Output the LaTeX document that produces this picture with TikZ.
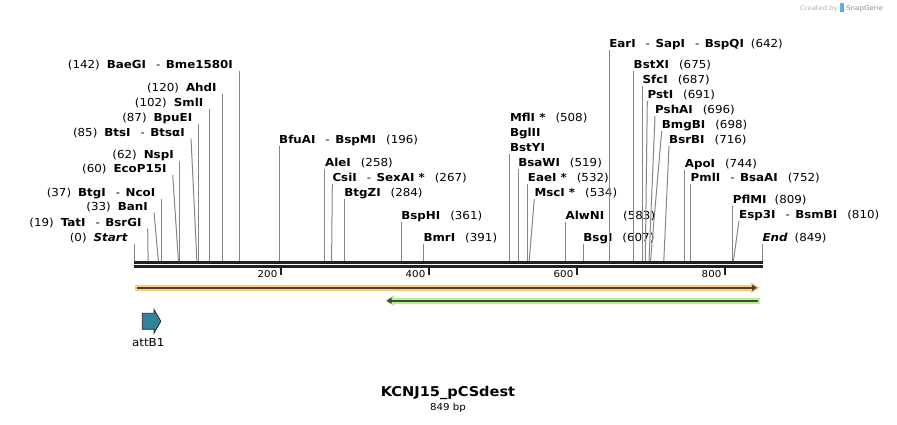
\documentclass[tikz,border=0pt]{standalone}
\usepackage{fontspec}
\setmainfont{DejaVu Sans}[FakeStretch=1.08]
\usepackage{xcolor}
\usepackage{tikz}
\usetikzlibrary{arrows.meta}

\definecolor{rulerblack}{HTML}{222222}
\definecolor{sitegray}{HTML}{858585}
\definecolor{orangeband}{HTML}{FBCB7B}
\definecolor{greenband}{HTML}{B6F08C}
\definecolor{orangeline}{HTML}{4D4332}
\definecolor{greenline}{HTML}{3F4B37}
\definecolor{attteal}{HTML}{31829A}
\definecolor{snapblue}{HTML}{5AB0E6}
\newcommand{\sepr}{\hspace{10pt}-\hspace{5.5pt}}
\newcommand{\rnum}[1]{\hspace{10pt}(#1)}
\newcommand{\lnum}[1]{(#1)\hspace{7pt}}

\begin{document}
\begin{tikzpicture}[x=1pt,y=-1pt,
  lbl/.style={inner sep=0pt,font=\fontsize{11}{13}\selectfont},
  llab/.style={lbl,anchor=base east},
  rlab/.style={lbl,anchor=base west},
  site/.style={sitegray,line width=1pt},
  tick/.style={rulerblack,line width=2pt},
  ticklab/.style={inner sep=0pt,anchor=base east,font=\fontsize{9.5}{11}\selectfont}]
\useasboundingbox (0,0) rectangle (897,424);

\node[inner sep=0pt,anchor=base west,text=black!30,font=\fontsize{6.3}{7}\selectfont] (credit) at (800,10) {Created by\hspace{2pt}\textcolor{snapblue}{\rule[-1.5pt]{4.5pt}{9pt}}\hspace{2pt}\textcolor{black!45}{\fontsize{6.6}{7}\selectfont SnapGene}};

\coordinate (rulerl) at (133.5,262.5);
\coordinate (rulerr) at (762.8,262.5);
\draw[rulerblack,line width=3pt] (rulerl) -- (rulerr);
\draw[rulerblack,line width=2.3pt] ([yshift=-3.9pt]rulerl) -- ([yshift=-3.9pt]rulerr);

\draw[tick] (281,267) -- (281,275);
\draw[tick] (429,267) -- (429,275);
\draw[tick] (577,267) -- (577,275);
\draw[tick] (725,267) -- (725,275);
\node[ticklab] (t200) at (277.5,277.5) {200};
\node[ticklab] (t400) at (425.5,277.5) {400};
\node[ticklab] (t600) at (573.5,277.5) {600};
\node[ticklab] (t800) at (721.5,277.5) {800};

\coordinate (s0) at (134,261);
\coordinate (s19) at (148.1,261);
\coordinate (s33) at (158.4,261);
\coordinate (s37) at (161.4,261);
\coordinate (s60) at (178.4,261);
\coordinate (s62) at (179.9,261);
\coordinate (s85) at (196.9,261);
\coordinate (s87) at (198.4,261);
\coordinate (s102) at (209.5,261);
\coordinate (s120) at (222.8,261);
\coordinate (s142) at (239.1,261);

\node[llab] (start) at (128,241) {\lnum{0}\textbf{\textit{Start}}};
\node[llab] (tati) at (141.7,226) {\lnum{19}\textbf{TatI}\sepr\textbf{BsrGI}};
\node[llab] (bani) at (148,210) {\lnum{33}\textbf{BanI}};
\node[llab] (btgi) at (155.4,196) {\lnum{37}\textbf{BtgI}\sepr\textbf{NcoI}};
\node[llab] (ecop) at (166.7,172.5) {\lnum{60}\textbf{EcoP15I}};
\node[llab] (nspi) at (173.9,158) {\lnum{62}\textbf{NspI}};
\node[llab] (btsi) at (185,136) {\lnum{85}\textbf{BtsI}\sepr\textbf{BtsαI}};
\node[llab] (bpuei) at (192.4,121) {\lnum{87}\textbf{BpuEI}};
\node[llab] (smli) at (203.5,106) {\lnum{102}\textbf{SmlI}};
\node[llab] (ahdi) at (216.8,91) {\lnum{120}\textbf{AhdI}};
\node[llab] (baegi) at (233.1,68) {\lnum{142}\textbf{BaeGI}\sepr\textbf{Bme1580I}};

\draw[site] (s0) -- ([xshift=6pt,yshift=-2.5pt]start.base east);
\draw[site] (s19) -- ([xshift=6pt,yshift=-2.5pt]tati.base east);
\draw[site] (s33) -- ([xshift=6pt,yshift=-2.5pt]bani.base east);
\draw[site] (s37) -- ([xshift=6pt,yshift=-2.5pt]btgi.base east);
\draw[site] (s60) -- ([xshift=6pt,yshift=-2.5pt]ecop.base east);
\draw[site] (s62) -- ([xshift=6pt,yshift=-2.5pt]nspi.base east);
\draw[site] (s85) -- ([xshift=6pt,yshift=-2.5pt]btsi.base east);
\draw[site] (s87) -- ([xshift=6pt,yshift=-2.5pt]bpuei.base east);
\draw[site] (s102) -- ([xshift=6pt,yshift=-2.5pt]smli.base east);
\draw[site] (s120) -- ([xshift=6pt,yshift=-2.5pt]ahdi.base east);
\draw[site] (s142) -- ([xshift=6pt,yshift=-2.5pt]baegi.base east);

\coordinate (s196) at (279,261);
\coordinate (s258) at (324.9,261);
\coordinate (s267) at (331.6,261);
\coordinate (s284) at (344.2,261);
\coordinate (s361) at (401.1,261);
\coordinate (s391) at (423.3,261);
\coordinate (s508) at (509.9,261);
\coordinate (s519) at (518.1,261);
\coordinate (s532) at (527.7,261);
\coordinate (s534) at (529.2,261);
\coordinate (s583) at (565.4,261);
\coordinate (s607) at (583.2,261);

\node[rlab] (bfuai) at (279,143.5) {\textbf{BfuAI}\sepr\textbf{BspMI}\rnum{196}};
\node[rlab] (alei) at (324.9,166) {\textbf{AleI}\rnum{258}};
\node[rlab] (csii) at (332.3,181.5) {\textbf{CsiI}\sepr\textbf{SexAI *}\rnum{267}};
\node[rlab] (btgzi) at (344.2,196.5) {\textbf{BtgZI}\rnum{284}};
\node[rlab] (bsphi) at (401.1,219) {\textbf{BspHI}\rnum{361}};
\node[rlab] (bmri) at (423.3,241) {\textbf{BmrI}\rnum{391}};
\node[rlab] (bstyi) at (509.9,151) {\textbf{BstYI}};
\node[rlab] (bglii) at ([yshift=15pt]bstyi.base west) {\textbf{BglII}};
\node[rlab] (mfli) at ([yshift=15pt]bglii.base west) {\textbf{MflI *}\rnum{508}};
\node[rlab] (bsawi) at (518.1,166) {\textbf{BsaWI}\rnum{519}};
\node[rlab] (eaei) at (527.7,181.5) {\textbf{EaeI *}\rnum{532}};
\node[rlab] (msci) at (534.3,196.5) {\textbf{MscI *}\rnum{534}};
\node[rlab] (alwni) at (565.4,219) {\textbf{AlwNI}\hspace{19pt}(583)};
\node[rlab] (bsgi) at (583.2,241) {\textbf{BsgI}\rnum{607}};

\draw[site] (s196) -- ([yshift=-2.5pt]bfuai.base west);
\draw[site] (s258) -- ([yshift=-2.5pt]alei.base west);
\draw[site] (s267) -- ([yshift=-2.5pt]csii.base west);
\draw[site] (s284) -- ([yshift=-2.5pt]btgzi.base west);
\draw[site] (s361) -- ([yshift=-2.5pt]bsphi.base west);
\draw[site] (s391) -- ([yshift=-2.5pt]bmri.base west);
\draw[site] (s508) -- ([yshift=-2.5pt]bstyi.base west);
\draw[site] (s519) -- ([yshift=-2.5pt]bsawi.base west);
\draw[site] (s532) -- ([yshift=-2.5pt]eaei.base west);
\draw[site] (s534) -- ([yshift=-2.5pt]msci.base west);
\draw[site] (s583) -- ([yshift=-2.5pt]alwni.base west);
\draw[site] (s607) -- ([yshift=-2.5pt]bsgi.base west);

\coordinate (s642) at (609.1,261);
\coordinate (s675) at (633.5,261);
\coordinate (s687) at (642.4,261);
\coordinate (s691) at (645.3,261);
\coordinate (s696) at (649,261);
\coordinate (s698) at (650.5,261);
\coordinate (s716) at (663.8,261);
\coordinate (s744) at (684.6,261);
\coordinate (s752) at (690.5,261);
\coordinate (s809) at (732.7,261);
\coordinate (s810) at (733.4,261);
\coordinate (s849) at (762.3,261);

\node[rlab] (eari) at (609.1,47.5) {\textbf{EarI}\sepr\textbf{SapI}\sepr\textbf{BspQI}\hspace{7pt}(642)};
\node[rlab] (bstxi) at (633.5,68) {\textbf{BstXI}\rnum{675}};
\node[rlab] (sfci) at (642.4,83.5) {\textbf{SfcI}\rnum{687}};
\node[rlab] (psti) at (647.3,98.5) {\textbf{PstI}\rnum{691}};
\node[rlab] (pshai) at (655,113.5) {\textbf{PshAI}\rnum{696}};
\node[rlab] (bmgbi) at (661.7,128.5) {\textbf{BmgBI}\rnum{698}};
\node[rlab] (bsrbi) at (669,143.5) {\textbf{BsrBI}\rnum{716}};
\node[rlab] (apoi) at (684.6,167) {\textbf{ApoI}\rnum{744}};
\node[rlab] (pmli) at (690.5,181) {\textbf{PmlI}\sepr\textbf{BsaAI}\rnum{752}};
\node[rlab] (pflmi) at (732.7,203.5) {\textbf{PflMI}\hspace{8pt}(809)};
\node[rlab] (esp) at (739,218.5) {\textbf{Esp3I}\sepr\textbf{BsmBI}\rnum{810}};
\node[rlab] (endl) at (762.3,241.5) {\textbf{\textit{End}}\hspace{7pt}(849)};

\draw[site] (s642) -- ([yshift=-2.5pt]eari.base west);
\draw[site] (s675) -- ([yshift=-2.5pt]bstxi.base west);
\draw[site] (s687) -- ([yshift=-2.5pt]sfci.base west);
\draw[site] (s691) -- ([yshift=-2.5pt]psti.base west);
\draw[site] (s696) -- ([yshift=-2.5pt]pshai.base west);
\draw[site] (s698) -- ([yshift=-2.5pt]bmgbi.base west);
\draw[site] (s716) -- ([yshift=-2.5pt]bsrbi.base west);
\draw[site] (s744) -- ([yshift=-2.5pt]apoi.base west);
\draw[site] (s752) -- ([yshift=-2.5pt]pmli.base west);
\draw[site] (s809) -- ([yshift=-2.5pt]pflmi.base west);
\draw[site] (s810) -- ([yshift=-2.5pt]esp.base west);
\draw[site] (s849) -- ([yshift=-2.5pt]endl.base west);

\fill[orangeband] (135,284.5) rectangle (752,291);
\fill[orangeband] (751,282.3) -- (760,287.8) -- (751,293.3) -- cycle;
\draw[orangeline,line width=2pt,-{Triangle[length=5pt,width=6pt]}] (137,287.8) -- (757,287.8);

\fill[greenband] (394,297.7) rectangle (760,303.7);
\fill[greenband] (394,295) -- (385.5,300.7) -- (394,306.3) -- cycle;
\draw[greenline,line width=2pt,-{Triangle[length=5pt,width=6pt]}] (757.7,300.7) -- (386.5,300.7);

\draw[fill=attteal,draw=black!85,line width=0.8pt] (142.3,313.3) -- (154,313.3) -- (154,309.5) -- (160.8,321.3) -- (154,333.1) -- (154,329.3) -- (142.3,329.3) -- cycle;
\node[lbl] (attb1) at (148.3,342.5) {attB1};

\node[inner sep=0pt,font=\fontsize{13.5}{16}\selectfont\bfseries] (title) at (448,393) {KCNJ15\_pCSdest};
\node[inner sep=0pt,font=\fontsize{9.5}{11}\selectfont] (len) at (448,408) {849 bp};
\end{tikzpicture}
\end{document}
